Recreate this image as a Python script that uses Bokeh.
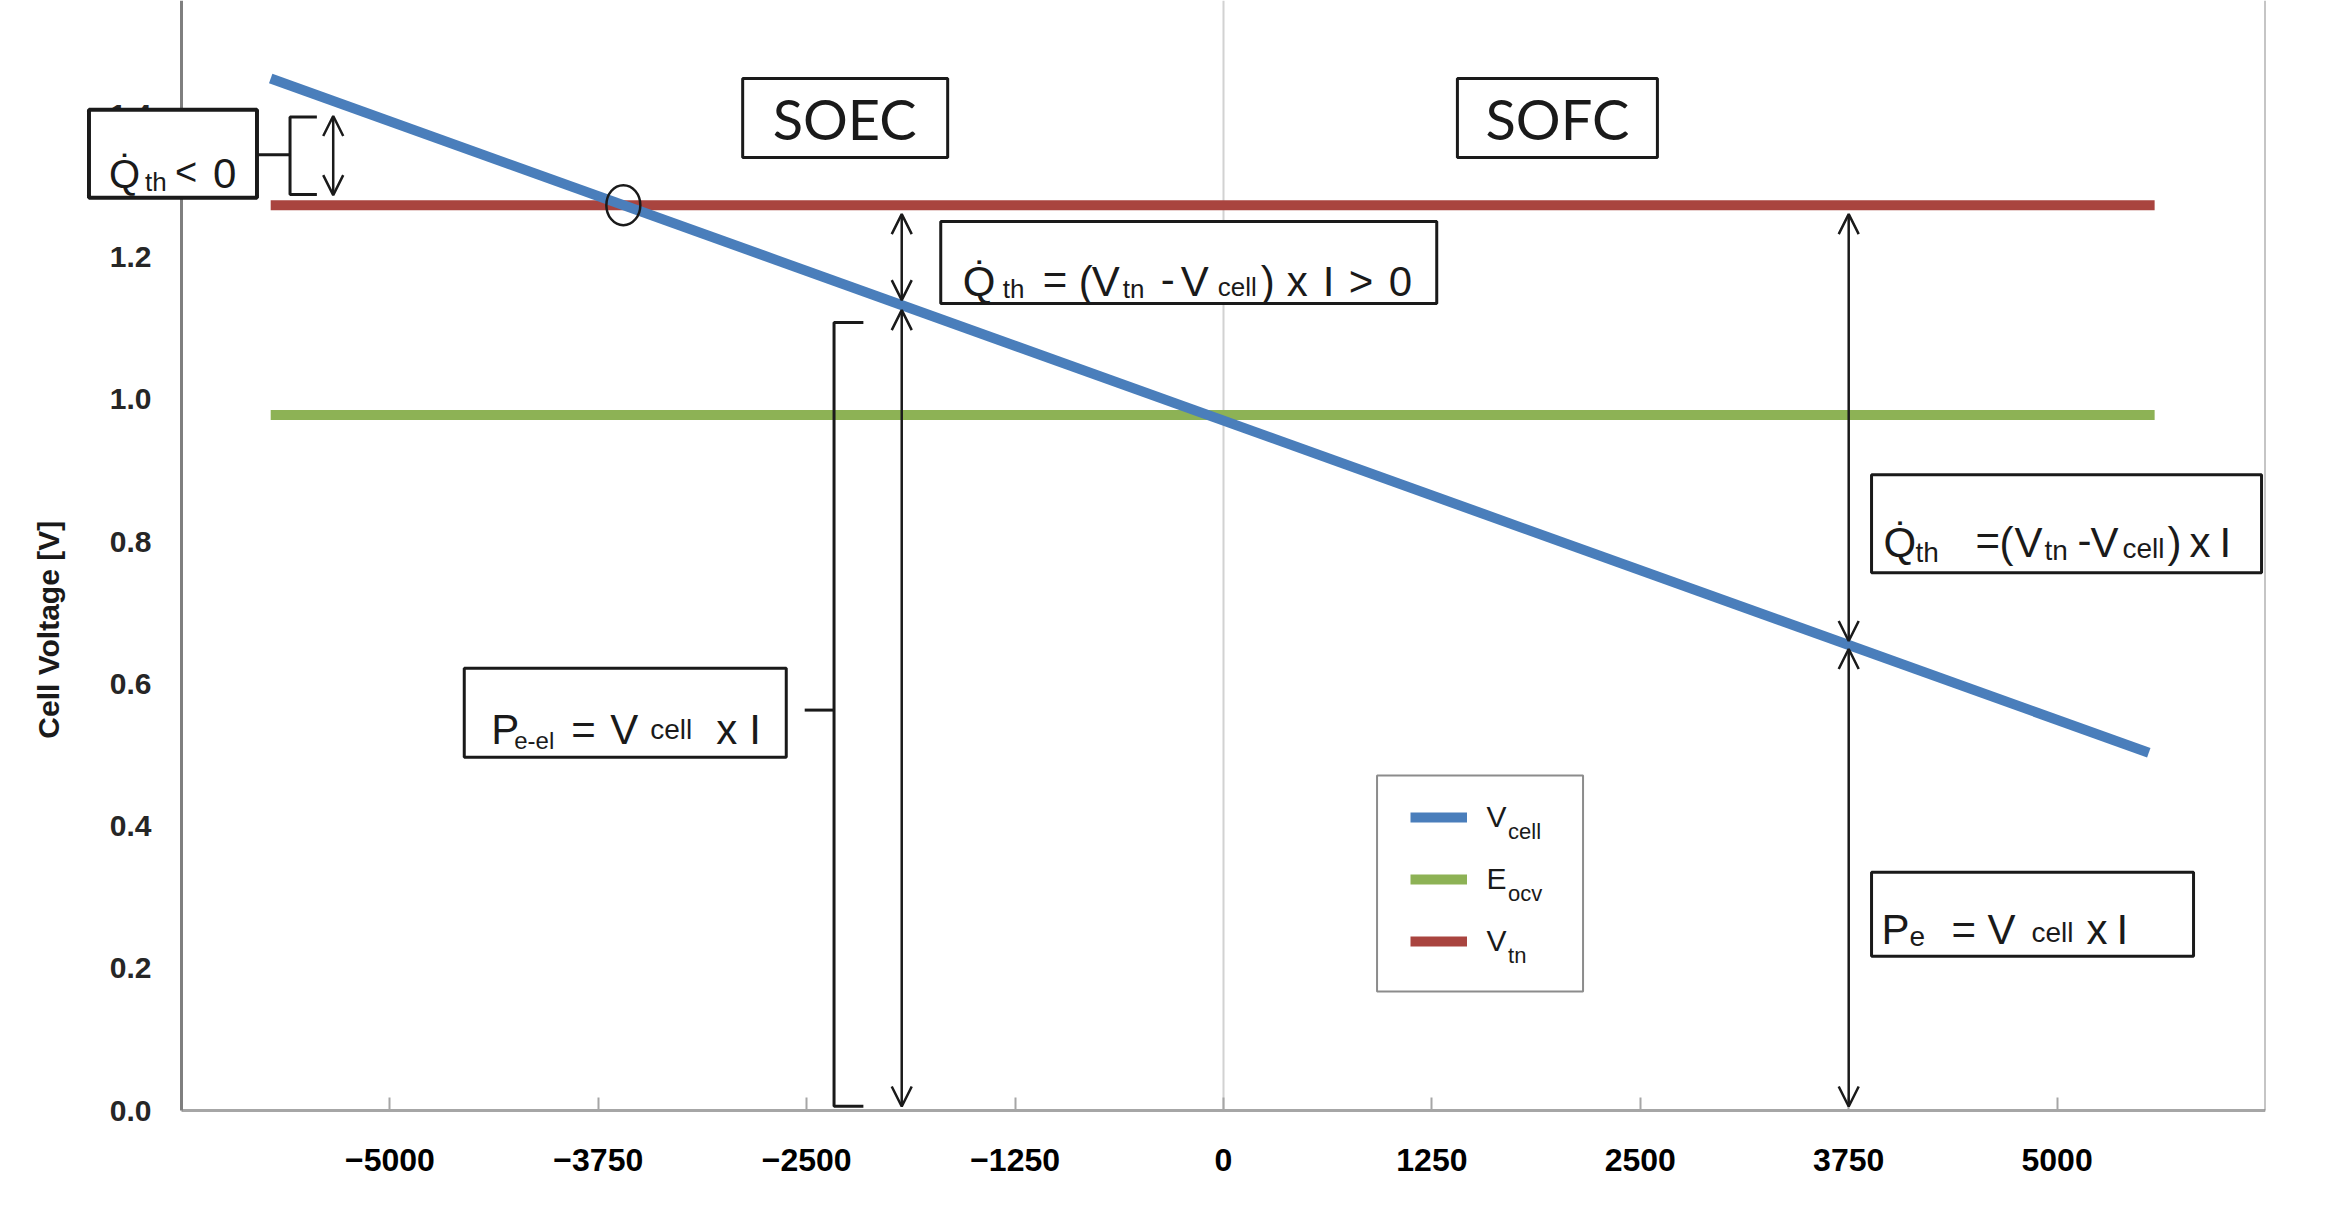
import numpy as np
from bokeh.plotting import figure
from bokeh.models import (Range1d, FixedTicker, LinearAxis, Arrow, OpenHead,
                          BoxAnnotation, Label, Legend, LegendItem, PrintfTickFormatter)
from bokeh.embed import file_html
from bokeh.resources import INLINE

# ---------------- data ----------------
current_vcell = [-5715, 5550]          # current [A] at ends of the V_cell line
v_cell = [1.451, 0.503]                # cell voltage [V]
current_flat = [-5715, 5585]           # current range of horizontal lines
e_ocv = [0.978, 0.978]                 # open circuit voltage [V]
v_tn = [1.273, 1.273]                  # thermoneutral voltage [V]
x_ticks = [-5000, -3750, -2500, -1250, 0, 1250, 2500, 3750, 5000]
y_ticks = [0.0, 0.2, 0.4, 0.6, 0.8, 1.0, 1.2, 1.4]
legend_main = ["V", "E", "V"]
legend_sub = ["cell", "ocv", "tn"]

# ---------------- layout ----------------
W, H = 2319, 1192
AXIS_L, AXIS_R = -6250, 6250          # visible axis extent (data)
AXIS_L_PX, AXIS_R_PX = 181, 2265      # where the vertical axes sit (px)
AXIS_B_PX = 1110                      # where the x axis sits (px)
BL, BT, BB = 8, 0, 0
PPX = (AXIS_R_PX - AXIS_L_PX) / (AXIS_R - AXIS_L)
X1 = AXIS_R
BR = W - AXIS_R_PX
X0 = AXIS_L - (AXIS_L_PX - BL) / PPX
PPY = 711.2
Y1 = (AXIS_B_PX - BT) / PPY
Y0 = -(H - BB - AXIS_B_PX) / PPY


def dx(px):
    return px / PPX


def dy(px):
    return px / PPY


FONT = "Liberation Sans"
INK = "#1a1a1a"

p = figure(width=W, height=H, x_range=Range1d(X0, X1), y_range=Range1d(Y0, Y1),
           output_backend="svg", toolbar_location=None,
           min_border_left=BL, min_border_right=BR, min_border_top=BT, min_border_bottom=BB)
p.outline_line_color = None
p.xgrid.grid_line_color = None
p.ygrid.grid_line_color = None

xa = p.xaxis[0]
xa.fixed_location = 0
xa.ticker = FixedTicker(ticks=x_ticks)
xa.bounds = (AXIS_L, AXIS_R)
xa.major_tick_in = 13
xa.major_tick_out = 0
xa.major_tick_line_color = "#a6a6a6"
xa.major_tick_line_width = 2
xa.minor_tick_line_color = None
xa.axis_line_color = "#a6a6a6"
xa.axis_line_width = 3
xa.major_label_text_font = FONT
xa.major_label_text_font_style = "bold"
xa.major_label_text_font_size = "32px"
xa.major_label_text_color = "#000000"
xa.major_label_standoff = 38

ya = p.yaxis[0]
ya.fixed_location = AXIS_L
ya.bounds = (0, Y1)
ya.ticker = FixedTicker(ticks=y_ticks)
ya.formatter = PrintfTickFormatter(format="%.1f")
ya.major_tick_line_color = None
ya.minor_tick_line_color = None
ya.axis_line_color = "#7f7f7f"
ya.axis_line_width = 3
ya.major_label_text_font = FONT
ya.major_label_text_font_style = "bold"
ya.major_label_text_font_size = "30px"
ya.major_label_text_color = "#262626"
ya.major_label_standoff = 24

ra = LinearAxis(fixed_location=AXIS_R, bounds=(0, Y1), ticker=FixedTicker(ticks=[]),
                axis_line_color="#8c8c8c", axis_line_width=2,
                major_tick_line_color=None, minor_tick_line_color=None,
                major_label_text_font_size="0px")
p.add_layout(ra, "right")

# light vertical line at zero current (from the axis to the top)
p.add_layout(BoxAnnotation(left=-dx(1), right=dx(1), bottom=0, top=Y1, fill_color="#d2d2d2",
                           fill_alpha=1.0, line_color=None, level="underlay"))

# ---------------- series ----------------
r_tn = p.line(current_flat, v_tn, line_color="#A9443F", line_width=10)
r_ocv = p.line(current_flat, e_ocv, line_color="#8DB255", line_width=10)
r_cell = p.line(current_vcell, v_cell, line_color="#4A7EBB", line_width=10)

x_int = float(np.interp(v_tn[0], v_cell[::-1], current_vcell[::-1]))
p.ellipse(x=[x_int], y=[v_tn[0]], width=34, height=40, width_units="screen",
          height_units="screen", fill_color=None, line_color=INK, line_width=2.5)


def v_at(x):
    return float(np.interp(x, current_vcell, v_cell))


def darrow(x, ya_, yb_):
    p.add_layout(Arrow(x_start=x, y_start=ya_, x_end=x, y_end=yb_, line_color=INK, line_width=2.5,
                       start=OpenHead(size=20, line_color=INK, line_width=2.5),
                       end=OpenHead(size=20, line_color=INK, line_width=2.5)))


def bracket(xv, xs_end, yt, yb, xt, ym):
    p.multi_line(xs=[[xs_end, xv, xv, xs_end], [xt, xv]], ys=[[yt, yt, yb, yb], [ym, ym]],
                 line_color=INK, line_width=3)


def box(l, t, wpx, hpx, lw=3, color=INK):
    p.add_layout(BoxAnnotation(left=l, right=l + dx(wpx), top=t, bottom=t - dy(hpx),
                               fill_color="white", fill_alpha=1.0, line_color=color,
                               line_width=lw, line_alpha=1.0))


def txt(l, t, pieces, font=FONT):
    for s, xo, yo, fs in pieces:
        p.add_layout(Label(x=l + dx(xo), y=t - dy(yo), text=s, text_font=font,
                           text_font_size=f"{fs}px", text_color=INK,
                           text_baseline="alphabetic", text_align="left"))


# arrows
xa1 = -5340
darrow(xa1, v_tn[0] + dy(10), v_at(xa1) - dy(15))
xa2 = -1930
darrow(xa2, v_tn[0] - dy(9), v_at(xa2) + dy(5))
darrow(xa2, v_at(xa2) - dy(5), 0 + dy(4))
xa3 = 3750
darrow(xa3, v_tn[0] - dy(9), v_at(xa3) + dy(4))
darrow(xa3, v_at(xa3) - dy(4), 0 + dy(4))

# brackets
bracket(-5599, -5438, 1.397, 1.288, -5796, 1.344)
bracket(-2336, -2160, 1.108, 0.006, -2512, 0.563)

# boxes + texts
QD = "Q\u0307"
box(-6805, 1.407, 168, 88, lw=4)
txt(-6805, 1.407, [(QD, 20, 64, 40), ("th", 56, 72, 26), ("<", 86, 62, 38), ("0", 124, 64, 42)])

box(-2884, 1.451, 205, 79)
p.add_layout(Label(x=-2884 + dx(102), y=1.451 - dy(40), text="SOEC", text_font="Lato",
                   text_font_size="56px", text_color=INK, text_align="center", text_baseline="middle"))
box(1403, 1.451, 200, 79)
p.add_layout(Label(x=1403 + dx(100), y=1.451 - dy(40), text="SOFC", text_font="Lato",
                   text_font_size="56px", text_color=INK, text_align="center", text_baseline="middle"))

box(-1696, 1.250, 496, 82)
txt(-1696, 1.250, [(QD, 22, 60, 42), ("th", 62, 67, 26), ("=", 102, 58, 42), ("(", 138, 60, 42),
                   ("V", 151, 60, 42), ("tn", 182, 67, 26), ("-", 220, 58, 42), ("V", 240, 60, 42),
                   ("cell", 277, 65, 26), (")", 320, 60, 42), ("x", 346, 60, 42), ("I", 382, 60, 42),
                   (">", 408, 60, 42), ("0", 448, 60, 42)])

box(3887, 0.894, 390, 98)
txt(3887, 0.894, [(QD, 12, 68, 42), ("th", 44, 78, 28), ("=", 104, 66, 42), ("(", 128, 68, 42),
                  ("V", 143, 68, 42), ("tn", 173, 76, 28), ("-", 206, 66, 42), ("V", 219, 68, 42),
                  ("cell", 251, 74, 28), (")", 296, 68, 42), ("x", 318, 68, 42), ("I", 348, 68, 42)])

box(-4554, 0.622, 322, 89)
txt(-4554, 0.622, [("P", 27, 61, 42), ("e-el", 50, 72, 24), ("=", 107, 61, 42), ("V", 146, 61, 42),
                   ("cell", 186, 61, 28), ("x", 252, 61, 42), ("I", 285, 61, 42)])

box(3887, 0.335, 322, 84)
txt(3887, 0.335, [("P", 10, 57, 42), ("e", 38, 64, 28), ("=", 80, 57, 42), ("V", 116, 57, 42),
                  ("cell", 160, 60, 28), ("x", 215, 57, 42), ("I", 245, 57, 42)])

# legend
LB_L, LB_T, LB_W, LB_H = 921, 0.471, 206, 216
box(LB_L, LB_T, LB_W, LB_H, lw=2, color="#8c8c8c")
items = [LegendItem(label=lab, renderers=[r]) for lab, r in zip(legend_main, [r_cell, r_ocv, r_tn])]
ITEM_H, ITEM_SP, GLYPH_W, STANDOFF = 40, 22, 57, 20
LEG_H = 3 * ITEM_H + 2 * ITEM_SP
LEG_X = (LB_L - X0) * PPX + 33
LEG_TOP = (LB_T - Y0) * PPY - 22
LEG_Y = LEG_TOP - LEG_H
legend = Legend(items=items, location=(LEG_X, LEG_Y), padding=0, margin=0, spacing=ITEM_SP,
                glyph_width=GLYPH_W, glyph_height=ITEM_H, label_height=ITEM_H, label_standoff=STANDOFF,
                label_text_font=FONT, label_text_font_size="30px", label_text_color=INK,
                border_line_color=None, background_fill_alpha=0.0)
p.add_layout(legend)
lab_x = X0 + dx(LEG_X + GLYPH_W + STANDOFF + 21)
for i, s in enumerate(legend_sub):
    yc = Y0 + dy(LEG_TOP - ITEM_H / 2 - (ITEM_H + ITEM_SP) * i)
    p.add_layout(Label(x=lab_x, y=yc - dy(14), text=s, text_font=FONT, text_font_size="22px",
                       text_color=INK, text_baseline="alphabetic", text_align="left"))

# y axis title
p.add_layout(Label(x=-7046, y=0.676, text="Cell Voltage [V]", angle=np.pi / 2, text_font=FONT,
                   text_font_style="bold", text_font_size="30px", text_color=INK,
                   text_align="center", text_baseline="middle"))

open("out.html", "w").write(file_html(p, INLINE))
